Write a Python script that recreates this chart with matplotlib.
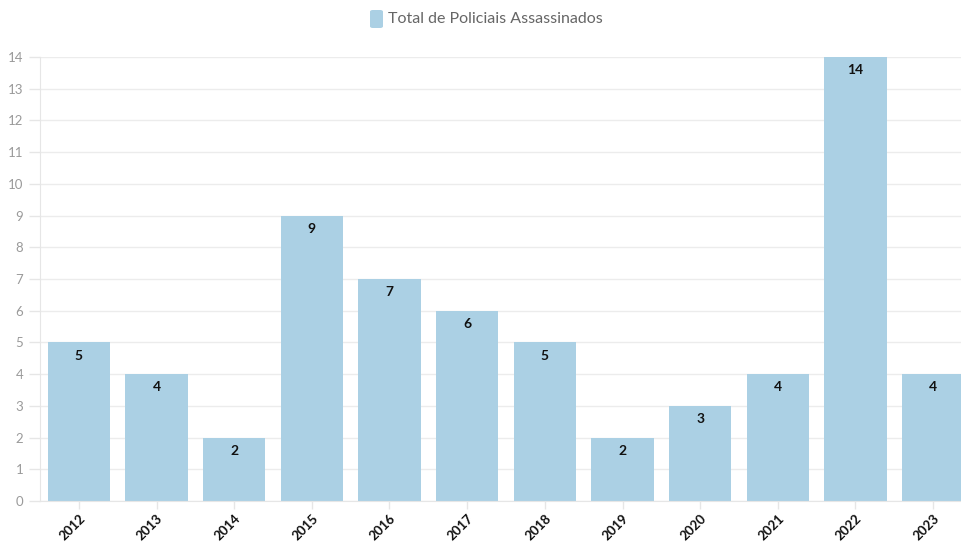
import matplotlib
matplotlib.use("Agg")
import matplotlib.pyplot as plt
from matplotlib.patches import FancyBboxPatch

years = ["2012", "2013", "2014", "2015", "2016", "2017", "2018", "2019", "2020", "2021", "2022", "2023"]
values = [5, 4, 2, 9, 7, 6, 5, 2, 3, 4, 14, 4]
series_name = "Total de Policiais Assassinados"

plt.rcParams['font.family'] = ['Lato', 'DejaVu Sans']

fig = plt.figure(figsize=(9.62, 5.45), dpi=100)
ax = fig.add_axes([40/962, 44/545, 932/962, 444/545])

bar_color = "#abd0e4"
x = list(range(len(years)))
ax.bar(x, values, width=0.8, color=bar_color, zorder=2)
for xi, v in zip(x, values):
    ax.annotate(str(v), (xi, v), xytext=(0, -9.5), textcoords="offset points",
                ha="center", va="center", fontsize=10, fontweight="bold", color="#111111", zorder=3)

ax.set_xlim(-0.5, len(years) - 0.5)
ax.set_ylim(0, 14)
ax.set_yticks(range(0, 15))
ax.set_xticks(x)
ax.set_xticklabels(years, rotation=45, ha="right", rotation_mode="anchor",
                   fontsize=9.5, fontweight="bold", color="#111111")
ax.tick_params(axis="y", labelsize=9.5, labelcolor="#9a9a9a", color="#e6e6e6", length=8, width=1, pad=4)
ax.tick_params(axis="x", color="#e6e6e6", length=6, width=1, pad=2)
ax.grid(axis="y", color="#ececec", linewidth=1, zorder=0)
for s in ["top", "right"]:
    ax.spines[s].set_visible(False)
ax.spines["left"].set_color("#e6e6e6")
ax.spines["bottom"].set_color("#e6e6e6")

# legend
lx, ly = 370/962, (545-28)/545
box = FancyBboxPatch((lx, ly), 13/962, 18/545, boxstyle="round,pad=0,rounding_size=0.003",
                     transform=fig.transFigure, facecolor=bar_color, edgecolor="none")
fig.patches.append(box)
fig.text(388/962, (545-19)/545, series_name, fontsize=11.5, color="#666666", ha="left", va="center")

fig.savefig("out.png", dpi=100)
